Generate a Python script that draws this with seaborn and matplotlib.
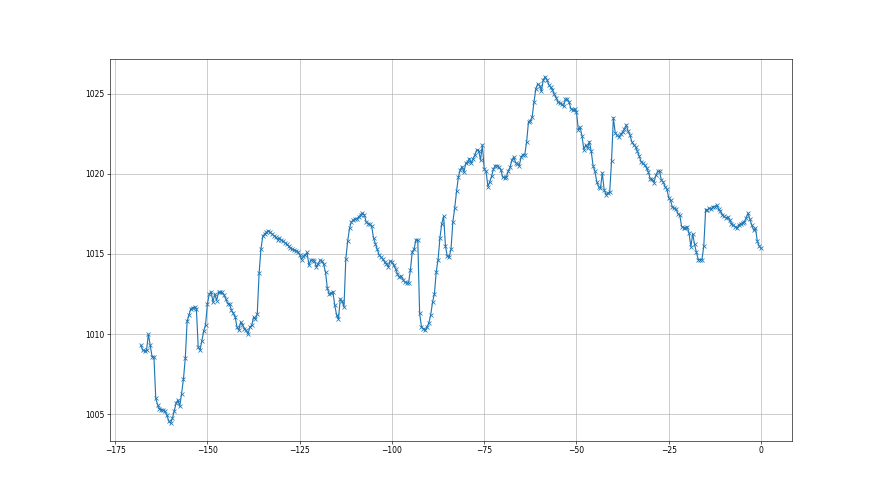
import numpy as np
import matplotlib
matplotlib.use("Agg")
import matplotlib.pyplot as plt
import seaborn as sns

# pressure readings (hPa), every half hour, oldest first, last one at hour 0
pressure = [
    1009.3, 1009.0, 1008.95, 1009.0, 1010.0, 1009.3, 1008.6, 1008.6, 1006.0, 1005.6,
    1005.35, 1005.3, 1005.25, 1005.2, 1004.95, 1004.6, 1004.45, 1004.75, 1005.2, 1005.7,
    1005.9, 1005.5, 1006.3, 1007.2, 1008.5, 1010.8, 1011.2, 1011.6, 1011.65, 1011.7,
    1011.6, 1009.2, 1009.0, 1009.6, 1010.2, 1010.6, 1011.9, 1012.5, 1012.65, 1012.0,
    1012.5, 1012.1, 1012.6, 1012.6, 1012.6, 1012.45, 1012.2, 1011.9, 1011.9, 1011.5,
    1011.3, 1011.1, 1010.45, 1010.25, 1010.75, 1010.6, 1010.35, 1010.25, 1010.0, 1010.45,
    1010.55, 1011.05, 1010.95, 1011.25, 1013.8, 1015.3, 1016.1, 1016.25, 1016.35, 1016.45,
    1016.35, 1016.25, 1016.15, 1016.05, 1015.9, 1016.0, 1015.85, 1015.8, 1015.7, 1015.6,
    1015.5, 1015.35, 1015.3, 1015.25, 1015.2, 1015.15, 1014.95, 1014.65, 1014.85, 1014.95,
    1015.1, 1014.3, 1014.6, 1014.65, 1014.55, 1014.2, 1014.4, 1014.6, 1014.55, 1014.35,
    1013.85, 1012.85, 1012.5, 1012.55, 1012.65, 1011.8, 1011.2, 1010.95, 1012.2, 1012.05,
    1011.7, 1014.7, 1015.8, 1016.6, 1017.0, 1017.1, 1017.2, 1017.2, 1017.3, 1017.45,
    1017.55, 1017.45, 1017.0, 1016.9, 1016.85, 1016.75, 1016.0, 1015.65, 1015.3, 1014.95,
    1014.8, 1014.7, 1014.5, 1014.4, 1014.2, 1014.55, 1014.5, 1014.3, 1014.05, 1013.75,
    1013.55, 1013.6, 1013.4, 1013.25, 1013.2, 1013.2, 1014.0, 1015.15, 1015.3, 1015.9,
    1015.85, 1011.3, 1010.45, 1010.35, 1010.25, 1010.45, 1010.7, 1011.2, 1012.0, 1012.5,
    1013.9, 1014.65, 1016.0, 1016.9, 1017.35, 1015.5, 1014.85, 1014.8, 1015.3, 1017.0,
    1017.85, 1018.9, 1019.8, 1020.25, 1020.45, 1020.1, 1020.65, 1020.75, 1020.95, 1020.65,
    1020.95, 1021.2, 1021.5, 1021.45, 1020.85, 1021.8, 1020.3, 1020.15, 1019.2, 1019.5,
    1019.85, 1020.3, 1020.5, 1020.5, 1020.4, 1020.25, 1019.8, 1019.75, 1019.8, 1020.15,
    1020.4, 1020.85, 1021.05, 1020.7, 1020.6, 1020.5, 1021.05, 1021.2, 1021.2, 1022.0,
    1023.25, 1023.3, 1023.55, 1024.5, 1025.3, 1025.6, 1025.5, 1025.15, 1025.85, 1026.05,
    1025.85, 1025.55, 1025.4, 1025.25, 1024.95, 1024.75, 1024.45, 1024.4, 1024.35, 1024.2,
    1024.65, 1024.65, 1024.45, 1024.05, 1024.0, 1024.05, 1023.85, 1022.75, 1022.9, 1022.35,
    1021.5, 1021.8, 1021.6, 1022.0, 1021.4, 1020.5, 1020.15, 1019.5, 1019.2, 1019.1,
    1020.05, 1019.0, 1018.7, 1018.8, 1018.85, 1020.8, 1023.5, 1022.55, 1022.4, 1022.3,
    1022.45, 1022.6, 1022.8, 1023.05, 1022.65, 1022.4, 1022.0, 1021.8, 1021.7, 1021.4,
    1021.1, 1020.75, 1020.65, 1020.55, 1020.35, 1020.1, 1019.65, 1019.65, 1019.45, 1019.9,
    1020.15, 1020.15, 1019.6, 1019.5, 1019.2, 1019.05, 1018.5, 1018.35, 1017.9, 1017.85,
    1017.8, 1017.5, 1017.4, 1016.7, 1016.65, 1016.65, 1016.7, 1016.3, 1015.45, 1016.25,
    1015.6, 1015.1, 1014.65, 1014.65, 1014.65, 1015.5, 1017.75, 1017.75, 1017.85, 1017.8,
    1017.95, 1017.95, 1018.05, 1017.8, 1017.65, 1017.45, 1017.35, 1017.25, 1017.3, 1017.1,
    1016.9, 1016.8, 1016.7, 1016.6, 1016.8, 1016.9, 1016.95, 1017.0, 1017.25, 1017.55,
    1017.15, 1016.8, 1016.5, 1016.6, 1015.8, 1015.5, 1015.35,
]

# hours relative to now (half-hour steps ending at 0)
hours = -0.5 * np.arange(len(pressure))[::-1]

fig, ax = plt.subplots(figsize=(16, 9), dpi=55)

sns.lineplot(x=hours, y=pressure, ax=ax, color="C0", linewidth=1.5,
             marker="x", markersize=6, markeredgecolor="C0",
             markeredgewidth=1.0, estimator=None)

ax.grid(True, color="#b0b0b0", linewidth=0.8)
ax.set_axisbelow(True)

fig.savefig("out.png", dpi=55)
